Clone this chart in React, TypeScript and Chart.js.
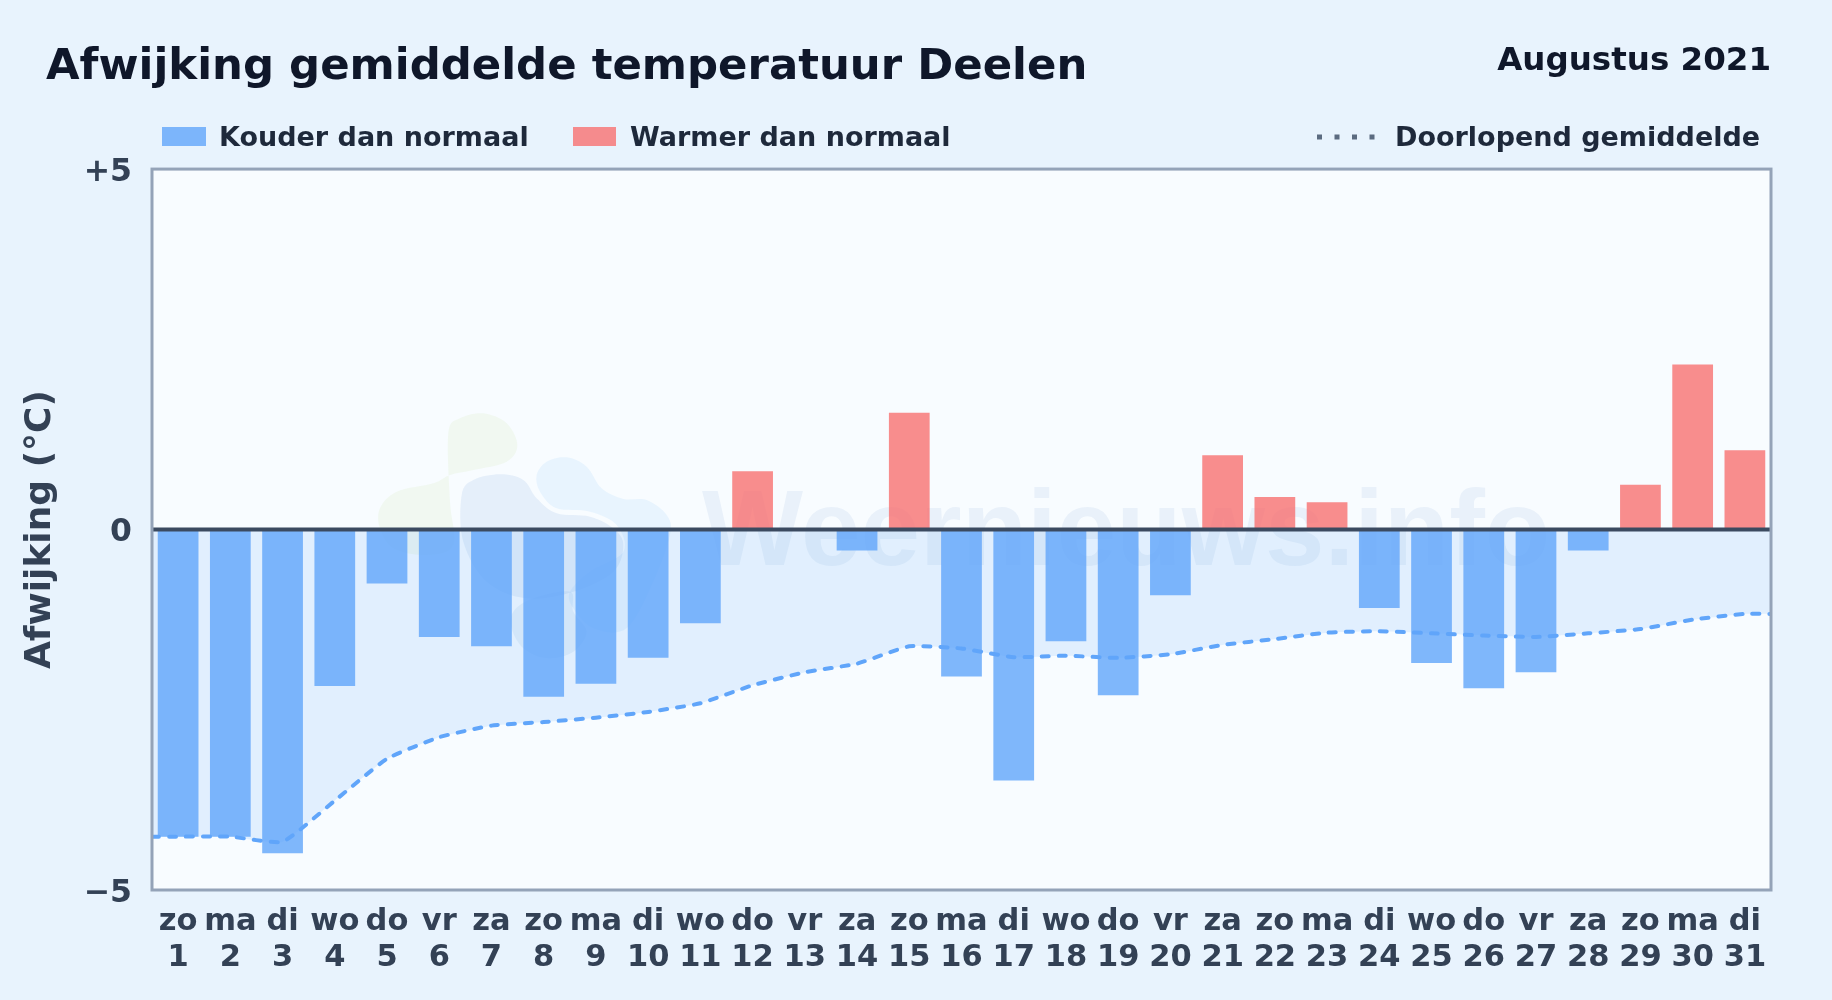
import React, { useEffect, useRef } from "react";
import { Chart, registerables } from "chart.js";

Chart.register(...registerables);

const weekdays = ["zo","ma","di","wo","do","vr","za","zo","ma","di","wo","do","vr","za","zo","ma","di","wo","do","vr","za","zo","ma","di","wo","do","vr","za","zo","ma","di"];
const dayNumbers = ["1","2","3","4","5","6","7","8","9","10","11","12","13","14","15","16","17","18","19","20","21","22","23","24","25","26","27","28","29","30","31"];
const deviations = [-4.26,-4.26,-4.49,-2.17,-0.75,-1.49,-1.62,-2.32,-2.14,-1.78,-1.30,0.81,0,-0.29,1.62,-2.04,-3.48,-1.55,-2.30,-0.91,1.03,0.45,0.38,-1.09,-1.85,-2.20,-1.98,-0.29,0.62,2.29,1.10];
const runningMean = [-4.26,-4.26,-4.33,-3.76,-3.18,-2.88,-2.72,-2.67,-2.61,-2.53,-2.41,-2.16,-1.98,-1.86,-1.62,-1.65,-1.77,-1.75,-1.78,-1.73,-1.60,-1.52,-1.43,-1.41,-1.44,-1.47,-1.49,-1.44,-1.38,-1.25,-1.17];
const yTicks = [-5, 0, 5];

const FONT = '"DejaVu Sans"';
const COLD = "rgba(96,165,250,0.8)";
const WARM = "rgba(248,113,113,0.8)";
const INK = "#334155";

type Blob = { color: string; pts: number[][] };
const logoBlobs: Blob[] = [
  { color: "rgba(200,225,160,0.15)", pts: [[265,115],[300,70],[370,55],[440,85],[472,150],[440,200],[340,225],[270,240],[220,265],[110,290],[60,340],[60,400],[100,460],[200,480],[280,450],[270,320]] },
  { color: "rgba(96,180,250,0.1)", pts: [[530,240],[560,200],[620,187],[680,215],[725,280],[790,312],[860,315],[920,360],[930,420],[880,560],[800,700],[700,700],[640,640],[630,590],[690,530],[790,470],[770,390],[690,350],[590,340],[540,290]] },
  { color: "rgba(100,150,210,0.12)", pts: [[305,300],[340,255],[420,238],[490,255],[530,310],[590,355],[690,365],[760,400],[790,450],[760,530],[640,590],[500,610],[380,560],[310,440]] },
  { color: "rgba(100,150,210,0.1)", pts: [[460,650],[520,610],[630,590],[640,650],[680,710],[640,770],[560,790],[490,760],[455,700]] },
];

function blobPath(ctx: CanvasRenderingContext2D, pts: number[][]) {
  const P = pts.map(([x, y]) => [360 + x / 3, 395 + y / 3]);
  const n = P.length;
  ctx.beginPath();
  ctx.moveTo(P[0][0], P[0][1]);
  for (let i = 0; i < n; i++) {
    const p0 = P[(i - 1 + n) % n], p1 = P[i], p2 = P[(i + 1) % n], p3 = P[(i + 2) % n];
    ctx.bezierCurveTo(
      p1[0] + (p2[0] - p0[0]) / 6, p1[1] + (p2[1] - p0[1]) / 6,
      p2[0] - (p3[0] - p1[0]) / 6, p2[1] - (p3[1] - p1[1]) / 6,
      p2[0], p2[1]
    );
  }
  ctx.closePath();
}

const frame = {
  id: "frame",
  beforeDatasetsDraw(chart: any) {
    const { ctx, chartArea: a } = chart;
    ctx.save();
    ctx.fillStyle = "#f8fcff";
    ctx.fillRect(a.left, a.top, a.right - a.left, a.bottom - a.top);
    for (const b of logoBlobs) {
      ctx.fillStyle = b.color;
      blobPath(ctx, b.pts);
      ctx.fill();
    }
    ctx.fillStyle = "rgba(70,120,190,0.08)";
    ctx.font = 'bold 107px "Liberation Sans"';
    ctx.textAlign = "left";
    ctx.textBaseline = "alphabetic";
    ctx.fillText("Weernieuws.info", 702, 565);
    ctx.restore();
  },
  afterDatasetsDraw(chart: any) {
    const { ctx, chartArea: a, scales } = chart;
    ctx.save();
    const y0 = scales.y.getPixelForValue(0);
    ctx.strokeStyle = "#3b4a60";
    ctx.lineWidth = 4;
    ctx.beginPath();
    ctx.moveTo(a.left, y0);
    ctx.lineTo(a.right, y0);
    ctx.stroke();
    ctx.strokeStyle = "#94a3b8";
    ctx.lineWidth = 3;
    ctx.strokeRect(a.left, a.top, a.right - a.left, a.bottom - a.top);
    ctx.restore();
  },
};

const legendText: React.CSSProperties = {
  position: "absolute", top: 121, height: 36, lineHeight: "36px", font: `bold 27px ${FONT}`,
  color: "#1e293b", whiteSpace: "nowrap",
};

export default function App() {
  const ref = useRef<HTMLCanvasElement>(null);
  useEffect(() => {
    document.body.style.margin = "0";
    document.body.style.background = "#e8f3fd";
    const linePts = runningMean.map((y, i) => ({ x: i + 1, y }));
    const extended = [
      { x: 0.5, y: runningMean[0] },
      ...linePts,
      { x: 31.5, y: runningMean[runningMean.length - 1] },
    ];
    const chart = new Chart(ref.current!, {
      type: "bar",
      plugins: [frame],
      data: {
        labels: weekdays.map((d, i) => [d, dayNumbers[i]]),
        datasets: [
          {
            type: "line", label: "Gebied", data: extended, xAxisID: "xl", order: 3,
            borderWidth: 0, pointRadius: 0, fill: "origin", tension: 0.15,
            backgroundColor: "rgba(96,165,250,0.15)",
          },
          {
            type: "bar", label: "Afwijking", data: deviations, xAxisID: "x", order: 2,
            backgroundColor: deviations.map((v) => (v < 0 ? COLD : WARM)),
            barPercentage: 0.78, categoryPercentage: 1, borderWidth: 0, grouped: false,
          },
          {
            type: "line", label: "Doorlopend gemiddelde", data: extended, xAxisID: "xl", order: 1,
            borderColor: "#60a5fa", borderWidth: 4, borderDash: [7, 10], borderCapStyle: "round",
            pointRadius: 0, fill: false, tension: 0.15,
          },
        ],
      } as any,
      options: {
        responsive: false,
        animation: false,
        devicePixelRatio: 1,
        layout: { padding: { left: 46, right: 61, top: 0, bottom: 0 } },
        plugins: {
          legend: { display: false },
          tooltip: { enabled: false },
          title: {
            display: true,
            text: "Afwijking gemiddelde temperatuur Deelen",
            align: "start",
            color: "#0f172a",
            font: { family: FONT, size: 43.4, weight: "bold", lineHeight: 1.2 },
            padding: { top: 42, bottom: 75 },
          },
        },
        scales: {
          x: {
            type: "category",
            position: "bottom",
            grid: { display: false, drawTicks: false },
            border: { display: false },
            offset: true,
            ticks: {
              autoSkip: false, maxRotation: 0, minRotation: 0, padding: 15, color: INK,
              font: { family: FONT, size: 30.5, weight: "bold", lineHeight: 1.15 },
            },
            afterFit(s: any) { s.height = 110; },
          },
          xl: { type: "linear", display: false, min: 0.5, max: 31.5, offset: false, grid: { offset: false } },
          y: {
            min: -5, max: 5,
            afterBuildTicks(s: any) { s.ticks = yTicks.map((value) => ({ value })); },
            grid: { display: false, drawTicks: false },
            border: { display: false },
            ticks: {
              padding: 20, color: INK,
              font: { family: FONT, size: 31.5, weight: "bold", lineHeight: "7px" },
              callback: (v: any) => ["", v > 0 ? `+${v}` : v < 0 ? `\u2212${Math.abs(v)}` : "0"],
            },
            title: {
              display: true, text: "Afwijking (\u00b0C)", color: INK,
              font: { family: FONT, size: 36, weight: "bold", lineHeight: 1.2 },
              padding: { top: -27, bottom: 0 },
            },
            afterFit(s: any) { s.width = 106; },
          },
        },
      } as any,
    });
    return () => chart.destroy();
  }, []);

  return (
    <div style={{ position: "relative", width: 1832, height: 1000, background: "#e8f3fd", overflow: "hidden" }}>
      <canvas ref={ref} width={1832} height={1000} style={{ display: "block" }} />
      <div style={{ position: "absolute", right: 61, top: 40, font: `bold 32.5px ${FONT}`, color: "#0f172a", whiteSpace: "nowrap" }}>Augustus 2021</div>
      <div style={{ position: "absolute", left: 162, top: 127, width: 44, height: 19, background: COLD }} />
      <div style={{ ...legendText, left: 219 }}>Kouder dan normaal</div>
      <div style={{ position: "absolute", left: 573, top: 127, width: 43, height: 19, background: WARM }} />
      <div style={{ ...legendText, left: 630 }}>Warmer dan normaal</div>
      <svg style={{ position: "absolute", left: 1317, top: 133 }} width={58} height={8}>
        <line x1={0} y1={4} x2={58} y2={4} stroke="#5b6b80" strokeWidth={5} strokeDasharray="5 12.5" />
      </svg>
      <div style={{ ...legendText, left: 1395 }}>Doorlopend gemiddelde</div>
    </div>
  );
}
